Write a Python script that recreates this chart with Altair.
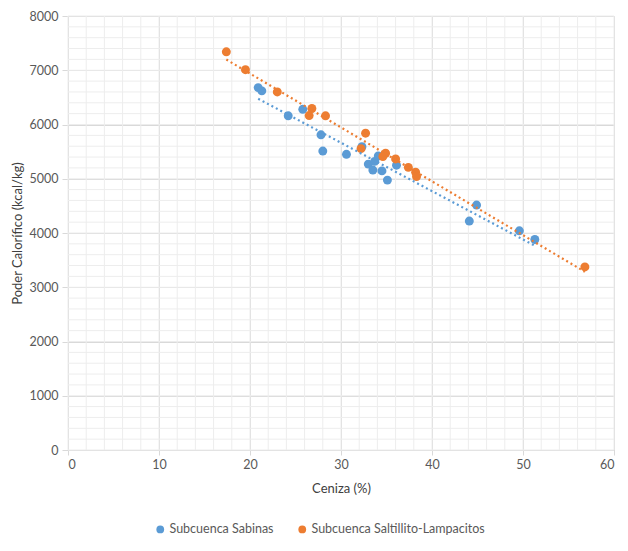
import altair as alt
import pandas as pd

# Subcuenca Sabinas
sab_x = [20.9, 21.3, 24.2, 25.8, 27.8, 28.0, 30.6, 32.3, 33.0, 33.5, 33.7, 34.1, 34.5, 35.1, 36.1, 44.1, 44.9, 49.6, 51.3]
sab_y = [6680, 6620, 6160, 6280, 5810, 5510, 5450, 5590, 5270, 5160, 5320, 5420, 5145, 4975, 5250, 4220, 4515, 4040, 3880]

# Subcuenca Saltillito-Lampacitos
sal_x = [17.4, 19.5, 23.0, 26.8, 26.5, 28.3, 32.7, 32.2, 34.9, 34.6, 36.0, 37.4, 38.2, 38.3, 56.8]
sal_y = [7340, 7010, 6600, 6295, 6165, 6160, 5840, 5555, 5470, 5410, 5365, 5210, 5120, 5040, 3375]

series = ["Subcuenca Sabinas", "Subcuenca Saltillito-Lampacitos"]
colors = ["#5B9BD5", "#ED7D31"]

x_ticks = [0, 10, 20, 30, 40, 50, 60]
y_ticks = [0, 1000, 2000, 3000, 4000, 5000, 6000, 7000, 8000]

df = pd.concat([
    pd.DataFrame({"x": sab_x, "y": sab_y, "serie": series[0]}),
    pd.DataFrame({"x": sal_x, "y": sal_y, "serie": series[1]}),
])

FONT = "Lato"
LABEL = "#595959"
GRID_MAJOR = "#D9D9D9"
GRID_MINOR = "#EDEDED"

xs = alt.Scale(domain=[0, 60], nice=False, zero=True)
ys = alt.Scale(domain=[0, 8000], nice=False)

x_axis = alt.Axis(values=x_ticks, grid=True, gridColor=GRID_MAJOR, format="d",
                  domainColor=GRID_MAJOR, tickColor=GRID_MAJOR, tickSize=5,
                  labelFont=FONT, labelFontSize=12.5, labelColor=LABEL, labelPadding=3,
                  titleFont=FONT, titleFontSize=13, titleColor="#404040",
                  titleFontWeight="normal", titlePadding=12)
y_axis = alt.Axis(values=y_ticks, grid=True, gridColor=GRID_MAJOR, format="d",
                  domainColor=GRID_MAJOR, tickColor=GRID_MAJOR, tickSize=6,
                  labelFont=FONT, labelFontSize=12.5, labelColor=LABEL, labelPadding=4,
                  titleFont=FONT, titleFontSize=13, titleColor="#404040",
                  titleFontWeight="normal", titleX=-51, titleY=217,
                  titleBaseline="middle", titleAlign="center", titleAngle=270)

X = lambda f: alt.X(f, scale=xs, title="Ceniza (%)", axis=x_axis)
Y = lambda f: alt.Y(f, scale=ys, title="Poder Calorífico (kcal/kg)", axis=y_axis)

color = alt.Color(
    "serie:N",
    scale=alt.Scale(domain=series, range=colors),
    legend=alt.Legend(
        title=None, orient="none", direction="horizontal",
        legendX=86, legendY=507, symbolType="circle", symbolSize=60,
        labelFont=FONT, labelFontSize=12.5, labelColor=LABEL, labelLimit=0,
        columnPadding=22, labelOffset=3, symbolStrokeWidth=0,
    ),
)

base = alt.Chart(df)

# minor grid
minor_x = alt.Chart(pd.DataFrame({"v": list(range(0, 61, 2))})).mark_rule(
    color=GRID_MINOR, strokeWidth=1
).encode(x=X("v:Q"))
minor_y = alt.Chart(pd.DataFrame({"v": list(range(0, 8001, 200))})).mark_rule(
    color=GRID_MINOR, strokeWidth=1
).encode(y=Y("v:Q"))

points = base.mark_circle(size=80, opacity=1).encode(
    x=X("x:Q"), y=Y("y:Q"), color=color,
)

trend = base.transform_regression("x", "y", groupby=["serie"]).mark_line(
    strokeDash=[2, 3], strokeWidth=2.2
).encode(
    x=X("x:Q"), y=Y("y:Q"), color=color,
)

chart = alt.layer(minor_x, minor_y, points, trend).properties(
    width=546, height=434,
    autosize=alt.AutoSizeParams(type="none"),
    padding={"left": 60, "top": 8, "right": 6, "bottom": 90},
).configure_view(stroke=None).configure(background="white")

chart.save("out.html", embed_options={"renderer": "svg", "actions": False})
